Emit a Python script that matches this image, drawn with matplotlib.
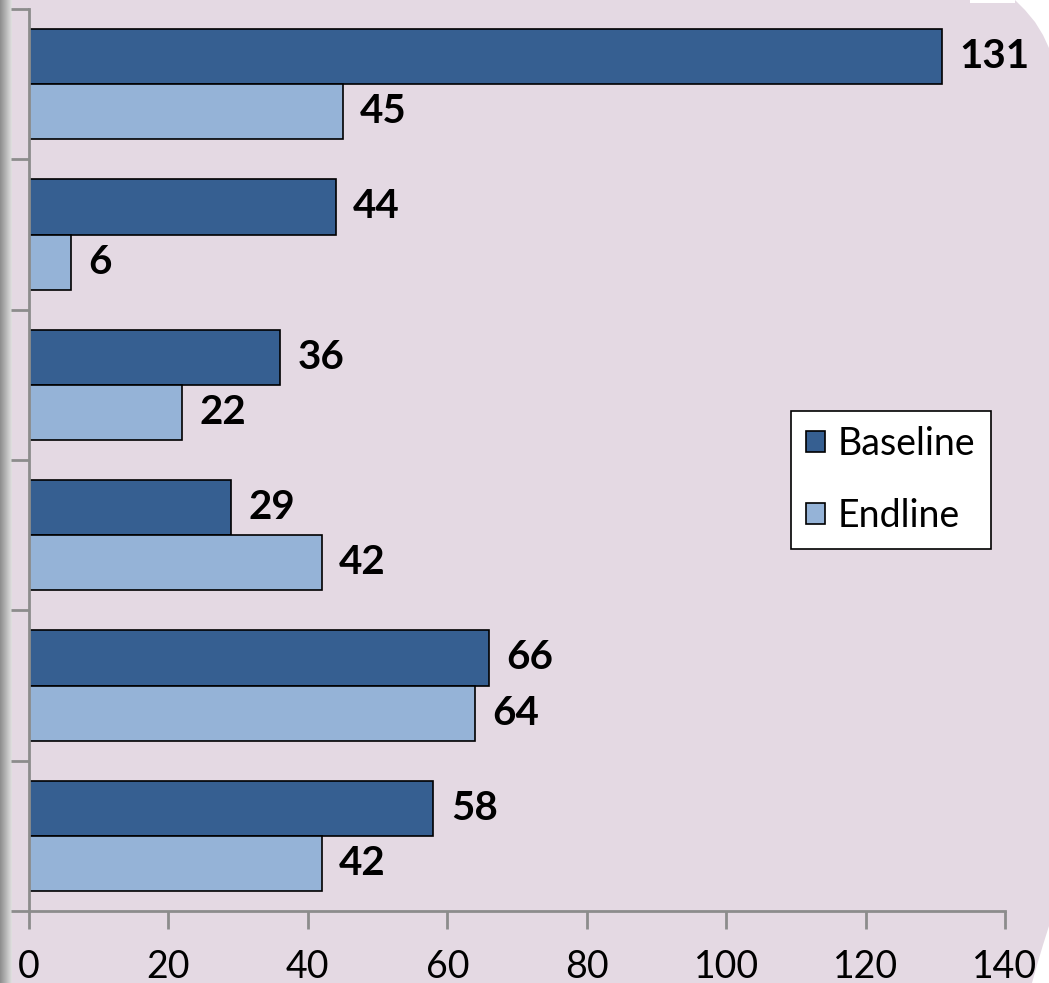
import matplotlib
matplotlib.use("Agg")
import matplotlib.pyplot as plt
import numpy as np
from matplotlib.patches import Polygon

categories = ["", "", "", "", "", ""]
baseline = [131, 44, 36, 29, 66, 58]
endline = [45, 6, 22, 42, 64, 42]
xticks = [0, 20, 40, 60, 80, 100, 120, 140]

plt.rcParams['font.family'] = ['Lato', 'DejaVu Sans']

bg = '#E4D9E3'
W, H = 1049, 983
fig = plt.figure(figsize=(W/100, H/100), dpi=100, facecolor=bg)

# decorative white corners
def px(pts):
    return [(x/W, 1 - y/H) for x, y in pts]
fig.patches.append(Polygon(px([(1015, 0), (1025, 10), (1035, 22), (1043, 35), (1049, 48), (1049, 0)]),
                           closed=True, transform=fig.transFigure, facecolor='white', edgecolor='none'))
fig.patches.append(Polygon(px([(970, 0), (1015, 0), (1015, 3), (970, 3)]),
                           closed=True, transform=fig.transFigure, facecolor='white', edgecolor='none'))
fig.patches.append(Polygon(px([(1049, 926), (1043, 945), (1037, 965), (1032, 983), (1049, 983)]),
                           closed=True, transform=fig.transFigure, facecolor='white', edgecolor='none'))

# left gradient strip
grad = np.linspace(0.55, 0.88, 50).reshape(1, -1)
axg = fig.add_axes([0, 0, 12/W, 1])
axg.imshow(np.dstack([grad, grad, grad]), aspect='auto', extent=[0, 1, 0, 1])
axg.axis('off')

ax = fig.add_axes([29/W, 1-911/H, (1005-29)/W, (911-9)/H])
ax.set_facecolor('none')
n = len(categories)
y = np.arange(n)
h = 0.367
ax.barh(y - h/2, baseline, height=h, color='#365F91', edgecolor='black', linewidth=1.2, label='Baseline')
ax.barh(y + h/2, endline, height=h, color='#95B3D7', edgecolor='black', linewidth=1.2, label='Endline')
for i in range(n):
    ax.text(baseline[i] + 2.5, y[i] - h/2, str(baseline[i]), va='center', ha='left',
            fontsize=29, fontweight='bold')
    ax.text(endline[i] + 2.5, y[i] + h/2, str(endline[i]), va='center', ha='left',
            fontsize=29, fontweight='bold')
ax.set_ylim(n - 0.5, -0.5)
ax.set_xlim(0, 140)
ax.set_yticks(np.arange(-0.5, n, 1.0))
ax.set_yticklabels([])
ax.set_xticks(xticks)
ax.set_xticklabels([str(t) for t in xticks], fontsize=27)
for s in ['top', 'right']:
    ax.spines[s].set_visible(False)
for s in ['left', 'bottom']:
    ax.spines[s].set_color('#8C8C8C')
    ax.spines[s].set_linewidth(2)
ax.tick_params(axis='both', colors='#8C8C8C', length=13, width=2, direction='out')
ax.tick_params(axis='x', labelcolor='black', pad=14)
leg = ax.legend(loc='upper left', bbox_to_anchor=((791-29)/976, 1-(411-9)/902),
                fontsize=27, frameon=True, fancybox=False, edgecolor='black', framealpha=1,
                handlelength=0.5, handleheight=0.5, handletextpad=0.35, labelspacing=0.95,
                borderpad=0.4, borderaxespad=0)
leg.get_frame().set_linewidth(1.2)
leg.get_frame().set_facecolor('white')
fig.savefig('out.png', dpi=100, facecolor=bg)
